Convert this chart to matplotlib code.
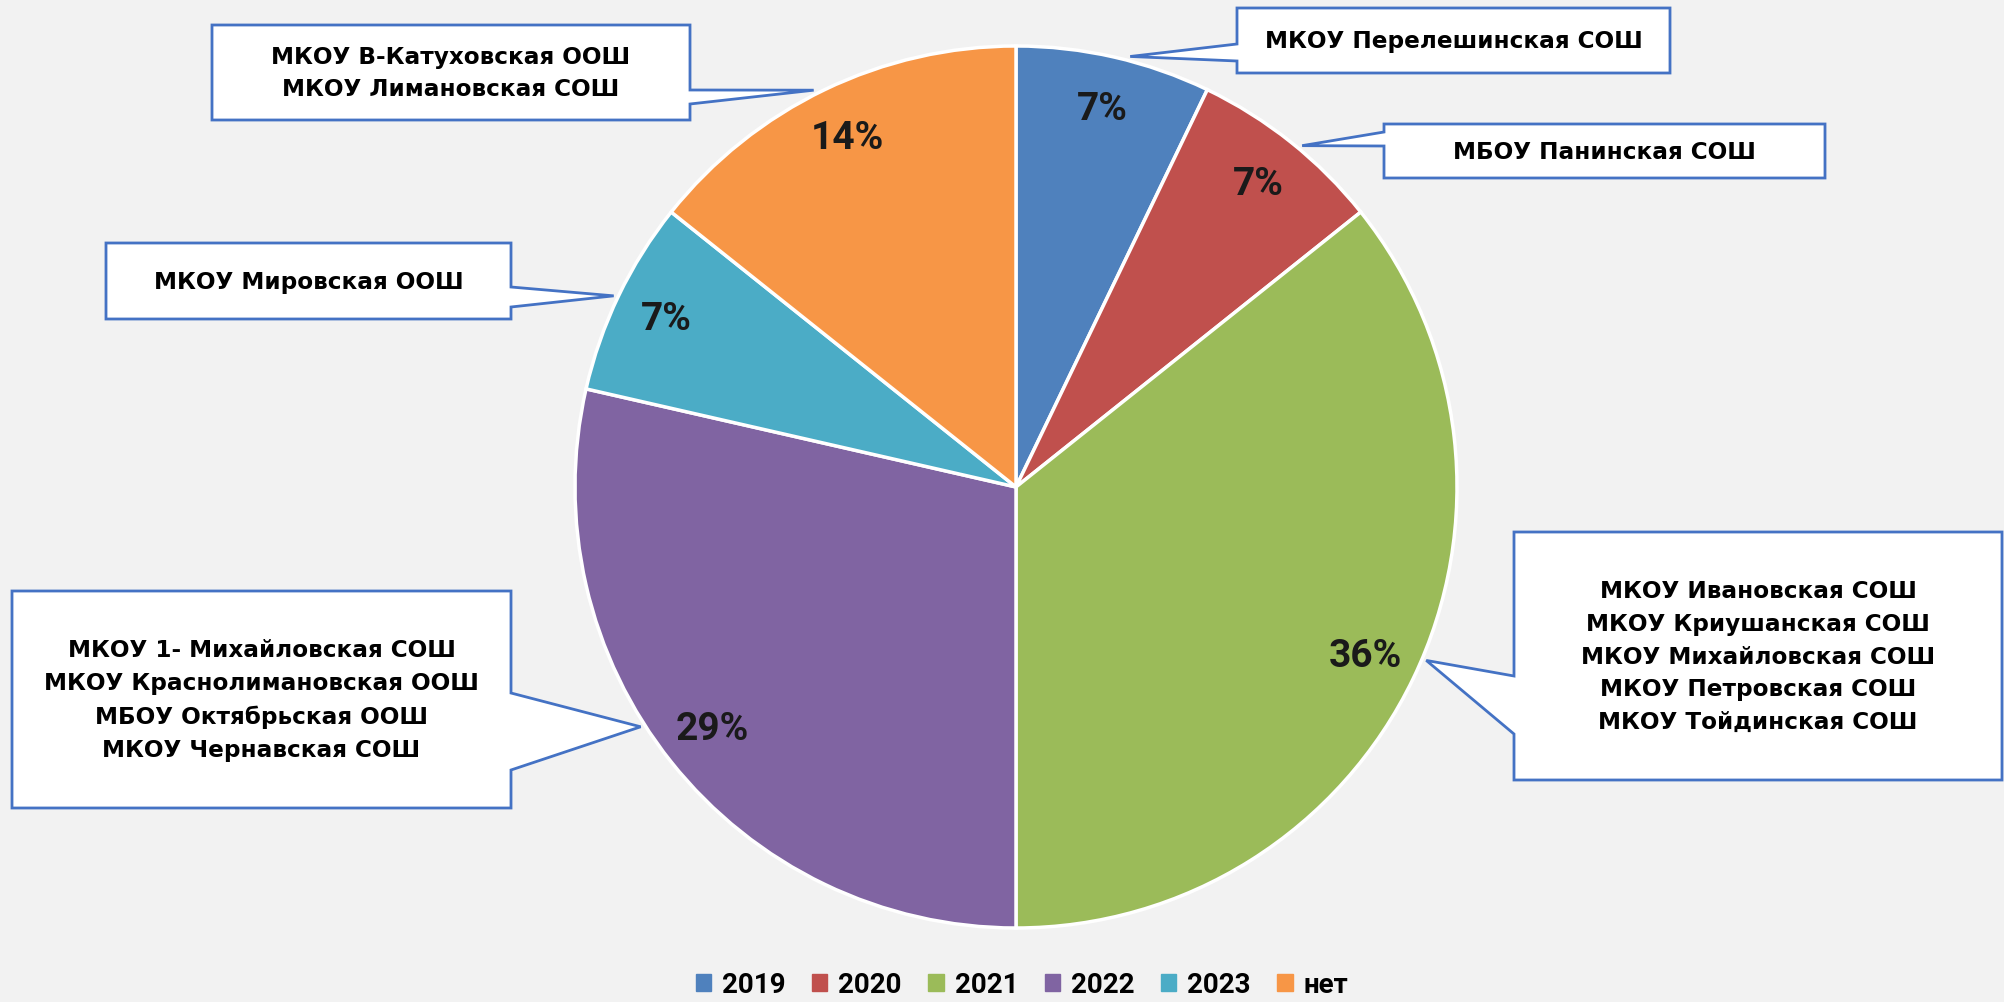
import matplotlib.pyplot as plt
import numpy as np
from matplotlib.patches import Polygon, Patch

years = ["2019", "2020", "2021", "2022", "2023", "нет"]
counts = [1, 1, 5, 4, 1, 2]
colors = ["#4f81bd", "#c0504d", "#9bbb59", "#8064a2", "#4bacc6", "#f79646"]
schools = [
    ["МКОУ Перелешинская СОШ"],
    ["МБОУ Панинская СОШ"],
    ["МКОУ Ивановская СОШ", "МКОУ Криушанская СОШ", "МКОУ Михайловская СОШ",
     "МКОУ Петровская СОШ", "МКОУ Тойдинская СОШ"],
    ["МКОУ 1- Михайловская СОШ", "МКОУ Краснолимановская ООШ",
     "МБОУ Октябрьская ООШ", "МКОУ Чернавская СОШ"],
    ["МКОУ Мировская ООШ"],
    ["МКОУ В-Катуховская ООШ", "МКОУ Лимановская СОШ"],
]

W, H = 2004, 1003
# callout layout in pixels (top-down): box x0, x1, y0, y1, pointer side, base y pair, angle shift
boxes = [
    (1237, 1670, 9, 74, "left", (45, 62), -2.0),
    (1384, 1825, 125, 179, "left", (133, 147), -1.4),
    (1514, 2002, 533, 781, "left", (677, 735), 2.8),
    (12, 511, 592, 809, "right", (694, 771), -6.0),
    (106, 511, 244, 320, "right", (288, 308), 0.3),
    (212, 690, 26, 121, "right", (91, 105), 1.3),
]

fig = plt.figure(figsize=(W / 100, H / 100), dpi=100, facecolor="#f2f2f2")
ax = fig.add_axes([0, 0, 1, 1])
ax.set_facecolor("#f2f2f2")

cx, cy, r = 1016, H - 488, 441
wedges, _, autotexts = ax.pie(
    counts, colors=colors, startangle=90, counterclock=False,
    center=(cx, cy), radius=r, autopct="%1.0f%%", pctdistance=0.88,
    wedgeprops=dict(edgecolor="white", linewidth=2.5),
    textprops=dict(fontsize=28, fontweight="bold", color="#1a1a1a",
                   family="Roboto"))
ax.set_xlim(0, W)
ax.set_ylim(0, H)
ax.set_aspect("auto")
ax.axis("off")

for w, names, (x0, x1, y0, y1, side, (b1, b2), dth) in zip(wedges, schools, boxes):
    mid = np.deg2rad((w.theta1 + w.theta2) / 2 + dth)
    tx, ty = cx + r * 1.01 * np.cos(mid), cy + r * 1.01 * np.sin(mid)
    t0, t1, yb1, yb2 = H - y0, H - y1, H - b1, H - b2
    if side == "left":
        pts = [(x0, t0), (x1, t0), (x1, t1), (x0, t1), (x0, yb2), (tx, ty), (x0, yb1)]
    else:
        pts = [(x0, t0), (x1, t0), (x1, yb1), (tx, ty), (x1, yb2), (x1, t1), (x0, t1)]
    ax.add_patch(Polygon(pts, closed=True, facecolor="white",
                         edgecolor="#4472c4", linewidth=2, zorder=3))
    ax.text((x0 + x1) / 2, (t0 + t1) / 2, "\n".join(names), ha="center",
            va="center", fontsize=16.7, fontweight="bold", linespacing=1.55,
            zorder=4)

handles = [Patch(color=c) for c in colors]
fig.legend(handles, years, loc="center", bbox_to_anchor=(1022 / W, 1 - 986 / H),
           ncol=6, frameon=False, handlelength=0.55, handleheight=0.55,
           handletextpad=0.4, columnspacing=0.95,
           prop=dict(size=20, weight="bold", family="Roboto"))

fig.savefig("out.png", dpi=100, facecolor=fig.get_facecolor())
